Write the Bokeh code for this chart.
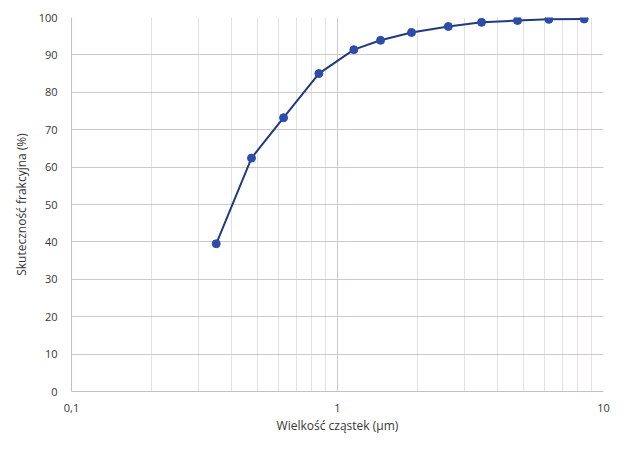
from bokeh.plotting import figure
from bokeh.models import FixedTicker
from bokeh.embed import file_html
from bokeh.resources import INLINE

# data
particle_size_um = [0.350, 0.475, 0.627, 0.851, 1.152, 1.452, 1.898, 2.61, 3.48, 4.75, 6.23, 8.46]
efficiency_pct = [39.5, 62.4, 73.2, 85.0, 91.4, 93.9, 96.0, 97.6, 98.7, 99.2, 99.5, 99.6]

x_ticks = [0.1, 1, 10]
x_tick_labels = {0.1: "0,1", 1: "1", 10: "10"}
x_minor = [0.2, 0.3, 0.4, 0.5, 0.6, 0.7, 0.8, 0.9, 2, 3, 4, 5, 6, 7, 8, 9]
y_ticks = list(range(0, 101, 10))

FONT = "Open Sans"
TEXT = "#363636"

p = figure(width=616, height=451, x_axis_type="log", x_range=(0.1, 10), y_range=(0, 100),
           output_backend="svg", toolbar_location=None, title=None,
           min_border_left=71, min_border_right=13, min_border_top=17, min_border_bottom=60)
p.outline_line_color = None
p.background_fill_color = "white"
p.border_fill_color = "white"

p.xaxis.ticker = FixedTicker(ticks=x_ticks, minor_ticks=x_minor)
p.xaxis.major_label_overrides = x_tick_labels
p.yaxis.ticker = FixedTicker(ticks=y_ticks)

for ax in (p.xaxis, p.yaxis):
    ax.major_tick_line_color = None
    ax.minor_tick_line_color = None
    ax.axis_line_color = "#c8bebe"
    ax.major_label_text_font = FONT
    ax.major_label_text_font_size = "11px"
    ax.major_label_text_color = TEXT
    ax.axis_label_text_font = FONT
    ax.axis_label_text_font_size = "12px"
    ax.axis_label_text_font_style = "normal"
    ax.axis_label_text_color = TEXT

p.xaxis.axis_label = "Wielkość cząstek (µm)"
p.yaxis.axis_label = "Skuteczność frakcyjna (%)"
p.xaxis.major_label_standoff = 6
p.xaxis.axis_label_standoff = 2
p.yaxis.major_label_standoff = 8
p.yaxis.axis_label_standoff = 6

p.xgrid.grid_line_color = "#d2c8c8"
p.xgrid.minor_grid_line_color = "#e6e1e1"
p.ygrid.grid_line_color = "#d2c8c8"

p.line(particle_size_um, efficiency_pct, line_color="#1f3a80", line_width=2)
p.scatter(particle_size_um, efficiency_pct, size=8, fill_color="#2c4ca8", line_color="#2c4ca8")

open("out.html", "w").write(file_html(p, INLINE))
